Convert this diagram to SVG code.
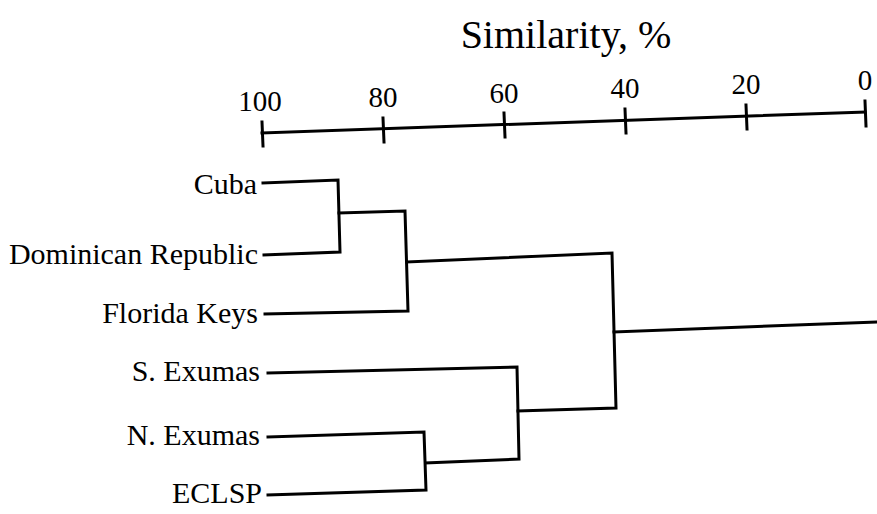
<svg xmlns="http://www.w3.org/2000/svg" width="877" height="514" viewBox="0 0 877 514">
<style>
text{font-family:"Liberation Serif","Times New Roman",serif;fill:#000}
.lbl{font-size:30px;text-anchor:end}
.num{font-size:29px;text-anchor:middle}
.ttl{font-size:40px;text-anchor:middle}
.ln{stroke:#000;stroke-width:3;fill:none;stroke-linecap:square}
</style>
<rect width="877" height="514" fill="#fff"/>
<g id="axis">
<text class="ttl" x="566" y="48">Similarity, %</text>
<polyline class="ln" points="262,133 865,112"/>
<line class="ln" x1="262" y1="122" x2="263" y2="146"/>
<line class="ln" x1="383" y1="118" x2="384" y2="142"/>
<line class="ln" x1="504" y1="113" x2="505" y2="137"/>
<line class="ln" x1="625" y1="109" x2="626" y2="133"/>
<line class="ln" x1="746" y1="105" x2="747" y2="129"/>
<line class="ln" x1="865" y1="101" x2="866" y2="126"/>
<text class="num" x="260" y="111">100</text>
<text class="num" x="383" y="107">80</text>
<text class="num" x="504" y="103">60</text>
<text class="num" x="625" y="98">40</text>
<text class="num" x="746" y="94">20</text>
<text class="num" x="865" y="90">0</text>
</g>
<g id="n-cuba"><text class="lbl" x="257" y="194">Cuba</text></g>
<g id="n-dr"><text class="lbl" x="258" y="264">Dominican Republic</text></g>
<g id="n-fk"><text class="lbl" x="258" y="323">Florida Keys</text></g>
<g id="n-se"><text class="lbl" x="260" y="381">S. Exumas</text></g>
<g id="n-ne"><text class="lbl" x="260" y="445">N. Exumas</text></g>
<g id="n-eclsp"><text class="lbl" x="262" y="503">ECLSP</text></g>
<g id="connectors">
<polyline class="ln" points="263,183 338,180 340,252 264,255"/>
<polyline class="ln" points="339,213 405,211 408,311 265,314"/>
<polyline class="ln" points="407,262 612,253 616,408 518,411"/>
<polyline class="ln" points="268,373 517,367 519,459 426,463"/>
<polyline class="ln" points="268,437 424,432 426,490 268,495"/>
<polyline class="ln" points="614,332 877,322"/>
</g>
</svg>
